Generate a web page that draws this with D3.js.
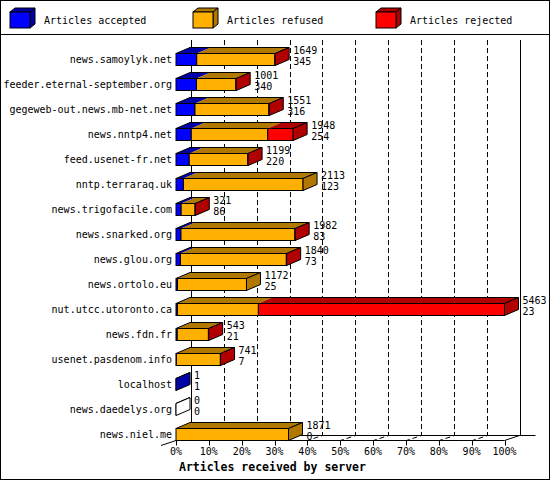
<!DOCTYPE html>
<html><head><meta charset="utf-8">
<script src="https://cdn.jsdelivr.net/npm/d3@7"></script>
<style>
body{margin:0;background:#fff}
svg{display:block}
text{font-family:"DejaVu Sans Mono",monospace;font-size:10px;fill:#000}
</style>
</head><body>
<svg id="c" width="550" height="480"></svg>
<script>
const categories = ["news.samoylyk.net","feeder.eternal-september.org","gegeweb-out.news.mb-net.net","news.nntp4.net","feed.usenet-fr.net","nntp.terraraq.uk","news.trigofacile.com","news.snarked.org","news.glou.org","news.ortolo.eu","nut.utcc.utoronto.ca","news.fdn.fr","usenet.pasdenom.info","localhost","news.daedelys.org","news.niel.me"];
const accepted = [345,340,316,254,220,123,86,83,73,25,23,21,7,1,0,0];
const refused  = [1300,656,1229,1272,974,1990,232,1895,1762,1147,1347,518,731,0,0,1871];
const rejected = [4,5,6,422,5,0,3,4,5,0,4093,4,3,0,0,0];
const seriesNames = ["Articles accepted","Articles refused","Articles rejected"];
const tickValues = [0,10,20,30,40,50,60,70,80,90,100];
const tickLabels = ["0%","10%","20%","30%","40%","50%","60%","70%","80%","90%","100%"];
const axisTitle = "Articles received by server";

const front = ["#0000ff","#ffb000","#ff0000"];
const dark  = ["#0000a8","#b07800","#b00000"];

const svg = d3.select("#c");
svg.append("rect").attr("x",0).attr("y",0).attr("width",550).attr("height",480).attr("fill","#fff");

const series = [accepted, refused, rejected];
const totals = categories.map((c,i)=>series.reduce((s,a)=>s+a[i],0));

const x = d3.scaleLinear().domain([0, d3.max(totals)]).range([176, 504.5]);
const pct = d3.scaleLinear().domain([0,100]).range([176, 504.5]);
const y = d3.scaleBand().domain(categories).range([40.5, 440]);
const DX = 14, DY = -6;      // bar depth
const FX = 15, FY = -5;      // wall depth
const yFloor = 440.5, yTop = 40;

// gridlines (back wall + floor)
const g = svg.append("g").attr("fill","none").attr("stroke","#000");
tickValues.forEach(v=>{
  const fx = Math.round(pct(v))+0.5, bx = Math.round(pct(v)+FX)+0.5;
  if (v===0 || v===100) {
    g.append("line").attr("x1",bx).attr("x2",bx).attr("y1",yTop).attr("y2",yFloor+FY);
  } else {
    g.append("path").attr("stroke-dasharray","5,3")
      .attr("d",`M${bx},${yTop}L${bx},${yFloor+FY}L${fx},${yFloor}`);
  }
});
// floor lines
g.append("line").attr("x1",Math.round(pct(0)+FX)).attr("x2",Math.round(pct(100)+2*FX)+0.5)
  .attr("y1",yFloor+FY).attr("y2",yFloor+FY);
g.append("line").attr("x1",pct(0)).attr("x2",pct(100)).attr("y1",yFloor).attr("y2",yFloor);
g.append("line").attr("x1",pct(100)).attr("x2",pct(100)+FX).attr("y1",yFloor).attr("y2",yFloor+FY);
g.append("line").attr("x1",pct(0)).attr("x2",pct(0)-FX).attr("y1",yFloor).attr("y2",yFloor-FY);
// ticks
tickValues.forEach(v=>{
  const fx = Math.round(pct(v))+0.5;
  g.append("line").attr("x1",fx).attr("x2",fx).attr("y1",yFloor).attr("y2",yFloor+5);
});
svg.append("g").selectAll("text").data(tickValues).join("text")
  .attr("x",(d)=>pct(d)).attr("y",455).attr("text-anchor","middle")
  .text((d,i)=>tickLabels[i]);
svg.append("text").attr("x",179).attr("y",470.5)
  .style("font-weight","bold").style("font-size","11.5px").text(axisTitle);

// bars
const poly = pts => "M"+pts.map(p=>p.join(",")).join("L")+"Z";
const bars = svg.append("g");
categories.forEach((c,i)=>{
  const bottom = Math.round(y(c)+y.step())+0.5;
  const top = bottom-12;
  const bg = bars.append("g");
  let cum = 0, lastIdx = -1;
  const segs = [];
  series.forEach((arr,k)=>{
    const v = arr[i];
    if (v>0) { segs.push({k, x0:x(cum), x1:x(cum+v)}); lastIdx = k; }
    cum += v;
  });
  const xEnd = x(totals[i]);
  // top faces fill
  segs.forEach(s=>{
    bg.append("path").attr("d",poly([[s.x0,top],[s.x0+DX,top+DY],[s.x1+DX,top+DY],[s.x1,top]]))
      .attr("fill",dark[s.k]).attr("stroke","none");
  });
  bg.append("path").attr("d",poly([[x(0),top],[x(0)+DX,top+DY],[xEnd+DX,top+DY],[xEnd,top]]))
    .attr("fill","none").attr("stroke","#000");
  // front faces
  segs.forEach(s=>{
    bg.append("rect").attr("x",s.x0).attr("y",top).attr("width",Math.max(0,s.x1-s.x0)).attr("height",12)
      .attr("fill",front[s.k]).attr("stroke","#000");
  });
  if (segs.length===0) {
    bg.append("line").attr("x1",x(0)).attr("x2",x(0)).attr("y1",top).attr("y2",bottom).attr("stroke","#000");
  }
  // side face
  bg.append("path").attr("d",poly([[xEnd,top],[xEnd+DX,top+DY],[xEnd+DX,bottom+DY],[xEnd,bottom]]))
    .attr("fill", lastIdx>=0 ? dark[lastIdx] : "#fff").attr("stroke","#000");
  // value labels
  bars.append("text").attr("x",xEnd+DX+4).attr("y",bottom-12).text(totals[i]);
  bars.append("text").attr("x",xEnd+DX+4).attr("y",bottom-0.5).text(accepted[i]);
  // category label
  svg.append("text").attr("x",172).attr("y",bottom-2.5).attr("text-anchor","end").text(c);
});

// legend
const lg = svg.append("g");
seriesNames.forEach((n,k)=>{
  const lx = 10 + k*183, ly = 12;
  lg.append("path").attr("d",poly([[lx,ly],[lx+5,ly-4],[lx+25,ly-4],[lx+20,ly]])).attr("fill",dark[k]).attr("stroke","#000");
  lg.append("path").attr("d",poly([[lx+20,ly],[lx+25,ly-4],[lx+25,ly+12],[lx+20,ly+16]])).attr("fill",dark[k]).attr("stroke","#000");
  lg.append("rect").attr("x",lx).attr("y",ly).attr("width",20).attr("height",16).attr("fill",front[k]).attr("stroke","#000");
  lg.append("text").attr("x",lx+34).attr("y",24).text(n);
});
svg.append("line").attr("x1",0).attr("x2",550).attr("y1",34.5).attr("y2",34.5).attr("stroke","#000");
svg.append("rect").attr("x",0.5).attr("y",0.5).attr("width",549).attr("height",479)
  .attr("fill","none").attr("stroke","#000");
</script>
</body></html>
